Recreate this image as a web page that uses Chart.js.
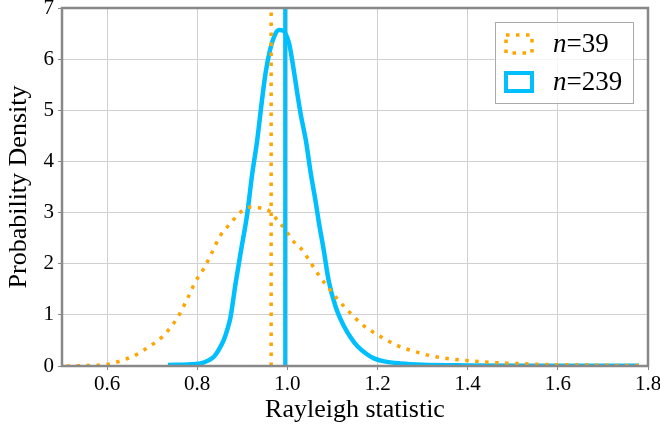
<!DOCTYPE html>
<html>
<head>
<meta charset="utf-8">
<script src="https://cdn.jsdelivr.net/npm/chart.js@4.4.1/dist/chart.umd.min.js"></script>
<style>
  html, body { margin: 0; padding: 0; background: #fff; }
  #wrap { position: relative; width: 660px; height: 428px; }
  #legend {
    position: absolute; left: 495px; top: 22px; width: 139px; height: 82px;
    box-sizing: border-box; border: 1.5px solid #aaa; background: rgba(255,255,255,0.8);
    font-family: "Liberation Serif", "DejaVu Serif", serif; font-size: 27px; color: #000;
  }
  .row { position: absolute; left: 0; width: 100%; height: 30px; }
  .row svg { position: absolute; left: 8px; top: 5px; }
  .row span { position: absolute; left: 57px; top: 0; line-height: 30px; white-space: nowrap; }
</style>
</head>
<body>
<div id="wrap">
  <canvas id="chart" width="660" height="428"></canvas>
  <div id="legend">
    <div class="row" style="top:5px">
      <svg width="30" height="22"><rect x="2" y="2" width="26" height="18" fill="none" stroke="#FFA500" stroke-width="3.5" stroke-dasharray="3.5 6.5"/></svg>
      <span><i>n</i>=39</span>
    </div>
    <div class="row" style="top:43px">
      <svg width="30" height="22"><rect x="2" y="2" width="26" height="18" fill="none" stroke="#00BFFF" stroke-width="4"/></svg>
      <span><i>n</i>=239</span>
    </div>
  </div>
</div>
<script>
const ORANGE = '#FFA500';
const BLUE = '#00BFFF';
const FONT = '"Liberation Serif", "DejaVu Serif", serif';

// n=39 density
const x39 = [0.51, 0.56, 0.60, 0.63, 0.66, 0.69, 0.72, 0.745, 0.763, 0.78, 0.796, 0.815, 0.83, 0.852, 0.874, 0.896, 0.92, 0.94, 0.96, 0.978, 0.996, 1.011, 1.03, 1.046, 1.067, 1.089, 1.11, 1.126, 1.145, 1.163, 1.2, 1.244, 1.28, 1.318, 1.36, 1.407, 1.45, 1.503, 1.57, 1.65, 1.72, 1.79];
const y39 = [0.0, 0.01, 0.03, 0.1, 0.2, 0.36, 0.55, 0.8, 1.05, 1.35, 1.65, 1.91, 2.17, 2.56, 2.79, 3.01, 3.11, 3.09, 3.03, 2.85, 2.66, 2.46, 2.30, 2.10, 1.81, 1.55, 1.32, 1.16, 0.99, 0.83, 0.61, 0.40, 0.29, 0.20, 0.14, 0.10, 0.07, 0.05, 0.03, 0.02, 0.012, 0.008];

// n=239 density
const x239 = [0.735, 0.78, 0.807, 0.825, 0.837, 0.848, 0.859, 0.868, 0.874, 0.885, 0.897, 0.911, 0.922, 0.933, 0.943, 0.952, 0.962, 0.972, 0.981, 0.99, 0.997, 1.004, 1.013, 1.022, 1.03, 1.041, 1.052, 1.062, 1.070, 1.080, 1.092, 1.107, 1.126, 1.14, 1.156, 1.175, 1.192, 1.215, 1.25, 1.30, 1.40, 1.55, 1.78];
const y239 = [0.02, 0.03, 0.05, 0.11, 0.18, 0.32, 0.51, 0.75, 0.96, 1.61, 2.25, 2.98, 3.76, 4.41, 5.15, 5.75, 6.2, 6.47, 6.57, 6.56, 6.48, 6.3, 5.85, 5.33, 4.9, 4.41, 3.76, 3.25, 2.8, 2.3, 1.65, 1.16, 0.77, 0.56, 0.38, 0.24, 0.15, 0.09, 0.05, 0.025, 0.012, 0.006, 0.005];

// vertical marker lines
const mark39 = 0.964;
const mark239 = 0.995;

const xTicks = [0.6, 0.8, 1.0, 1.2, 1.4, 1.6, 1.8];
const yTicks = [0, 1, 2, 3, 4, 5, 6, 7];

const pts = (xs, ys) => xs.map((x, i) => ({ x: x, y: ys[i] }));

/* Border round the plot area */
const frame = {
  id: 'frame',
  afterDatasetsDraw(chart) {
    const a = chart.chartArea, c = chart.ctx;
    c.save();
    c.strokeStyle = '#888';
    c.lineWidth = 2.5;
    c.strokeRect(a.left, a.top, a.right - a.left, a.bottom - a.top);
    c.restore();
  }
};

const ctx = document.getElementById('chart');
const myChart = new Chart(ctx, {
  type: 'scatter',
  data: {
    datasets: [
      { label: 'n=39 line', data: [{x: mark39, y: 0}, {x: mark39, y: 7}], showLine: true,
        borderColor: ORANGE, borderWidth: 3.5, borderDash: [3.5, 6.5], pointRadius: 0 },
      { label: 'n=239 line', data: [{x: mark239, y: 0}, {x: mark239, y: 7}], showLine: true,
        borderColor: BLUE, borderWidth: 4, pointRadius: 0 },
      { label: 'n=39', data: pts(x39, y39), showLine: true, borderColor: ORANGE, borderWidth: 3.5,
        borderDash: [3.5, 6.5], pointRadius: 0, cubicInterpolationMode: 'monotone' },
      { label: 'n=239', data: pts(x239, y239), showLine: true, borderColor: BLUE, borderWidth: 4.5,
        pointRadius: 0, cubicInterpolationMode: 'monotone' }
    ]
  },
  options: {
    responsive: false,
    animation: false,
    layout: { padding: 0 },
    plugins: { legend: { display: false }, tooltip: { enabled: false } },
    scales: {
      x: {
        type: 'linear', min: 0.5, max: 1.8,
        afterBuildTicks: s => { s.ticks = xTicks.map(v => ({ value: v })); },
        afterFit: s => { s.height = 62; s.paddingRight = 12; s.paddingLeft = 0; },
        ticks: { callback: v => v.toFixed(1), color: '#000', font: { family: FONT, size: 21 },
                 padding: 2, maxRotation: 0, autoSkip: false },
        grid: { color: '#d0d0d0', lineWidth: 1, tickLength: 4, tickColor: '#888' },
        border: { display: false },
        title: { display: true, text: 'Rayleigh statistic', color: '#000',
                 font: { family: FONT, size: 26 }, padding: { top: 0, bottom: 2 } }
      },
      y: {
        type: 'linear', min: 0, max: 7,
        afterBuildTicks: s => { s.ticks = yTicks.map(v => ({ value: v })); },
        afterFit: s => { s.width = 62; s.paddingTop = 8; s.paddingBottom = 0; },
        ticks: { color: '#000', font: { family: FONT, size: 21 }, padding: 4 },
        grid: { color: '#d0d0d0', lineWidth: 1, tickLength: 4, tickColor: '#888' },
        border: { display: false },
        title: { display: true, text: 'Probability Density', color: '#000',
                 font: { family: FONT, size: 26 }, padding: { top: 4, bottom: 0 } }
      }
    }
  },
  plugins: [frame]
});
</script>
</body>
</html>
